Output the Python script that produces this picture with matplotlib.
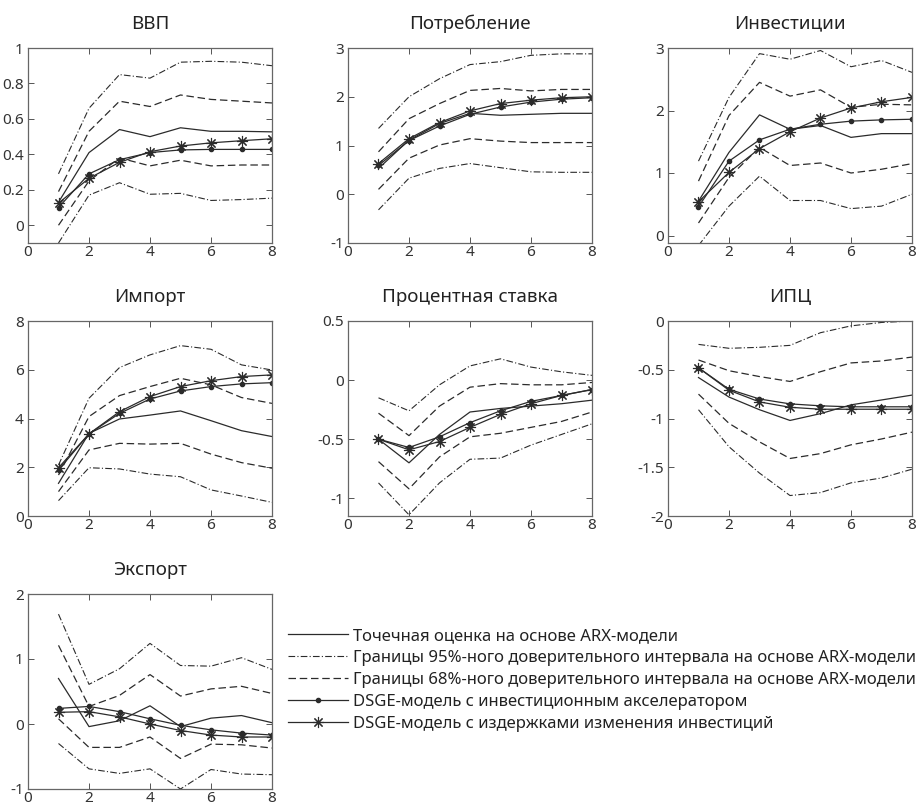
import numpy as np
import matplotlib
matplotlib.use("Agg")
import matplotlib.pyplot as plt
from matplotlib.lines import Line2D

plt.rcParams['font.family'] = ['Noto Sans', 'DejaVu Sans']

# горизонт, кварталы
h = [1, 2, 3, 4, 5, 6, 7, 8]

titles = ["ВВП", "Потребление", "Инвестиции", "Импорт",
          "Процентная ставка", "ИПЦ", "Экспорт"]

# точечная оценка ARX
arx = [
    [0.13, 0.41, 0.54, 0.50, 0.55, 0.53, 0.53, 0.527],
    [0.53, 1.11, 1.45, 1.66, 1.62, 1.64, 1.66, 1.66],
    [0.55, 1.33, 1.93, 1.70, 1.76, 1.57, 1.63, 1.63],
    [1.34, 3.39, 3.98, 4.14, 4.31, 3.91, 3.50, 3.26],
    [-0.50, -0.70, -0.46, -0.27, -0.24, -0.22, -0.20, -0.17],
    [-0.58, -0.78, -0.91, -1.02, -0.95, -0.86, -0.81, -0.76],
    [0.70, -0.04, 0.05, 0.28, -0.04, 0.09, 0.13, 0.02],
]
# 95% границы
up95 = [
    [0.29, 0.66, 0.85, 0.83, 0.92, 0.925, 0.92, 0.90],
    [1.35, 2.00, 2.37, 2.66, 2.72, 2.85, 2.88, 2.88],
    [1.19, 2.21, 2.91, 2.82, 2.96, 2.70, 2.80, 2.61],
    [2.09, 4.83, 6.09, 6.61, 6.99, 6.84, 6.20, 5.99],
    [-0.15, -0.26, -0.04, 0.12, 0.18, 0.11, 0.07, 0.04],
    [-0.24, -0.28, -0.27, -0.25, -0.12, -0.05, -0.015, 0.0],
    [1.69, 0.61, 0.85, 1.24, 0.90, 0.89, 1.02, 0.84],
]
lo95 = [
    [-0.10, 0.17, 0.24, 0.175, 0.18, 0.14, 0.145, 0.153],
    [-0.32, 0.33, 0.53, 0.63, 0.545, 0.46, 0.45, 0.45],
    [-0.16, 0.47, 0.95, 0.56, 0.56, 0.43, 0.47, 0.66],
    [0.63, 1.98, 1.93, 1.72, 1.61, 1.07, 0.82, 0.56],
    [-0.87, -1.14, -0.87, -0.67, -0.66, -0.55, -0.46, -0.37],
    [-0.91, -1.29, -1.56, -1.79, -1.76, -1.66, -1.61, -1.52],
    [-0.30, -0.69, -0.76, -0.69, -1.00, -0.70, -0.77, -0.78],
]
# 68% границы
up68 = [
    [0.19, 0.53, 0.70, 0.67, 0.735, 0.71, 0.70, 0.69],
    [0.87, 1.55, 1.86, 2.13, 2.17, 2.12, 2.15, 2.15],
    [0.87, 1.92, 2.45, 2.23, 2.33, 2.05, 2.10, 2.09],
    [1.68, 4.08, 4.94, 5.31, 5.65, 5.38, 4.86, 4.62],
    [-0.28, -0.47, -0.22, -0.06, -0.03, -0.04, -0.04, -0.02],
    [-0.40, -0.51, -0.57, -0.62, -0.52, -0.43, -0.41, -0.37],
    [1.21, 0.27, 0.44, 0.76, 0.43, 0.54, 0.58, 0.47],
]
lo68 = [
    [0.00, 0.25, 0.38, 0.335, 0.367, 0.335, 0.34, 0.34],
    [0.10, 0.74, 1.01, 1.14, 1.09, 1.06, 1.06, 1.06],
    [0.20, 0.93, 1.41, 1.12, 1.16, 1.00, 1.06, 1.15],
    [1.00, 2.71, 2.98, 2.95, 2.98, 2.54, 2.19, 1.96],
    [-0.69, -0.92, -0.65, -0.48, -0.45, -0.40, -0.35, -0.27],
    [-0.75, -1.05, -1.24, -1.41, -1.36, -1.27, -1.21, -1.14],
    [0.08, -0.36, -0.36, -0.20, -0.53, -0.31, -0.32, -0.37],
]
# DSGE с инвестиционным акселератором
dsge_acc = [
    [0.10, 0.29, 0.37, 0.41, 0.425, 0.428, 0.428, 0.428],
    [0.59, 1.10, 1.40, 1.64, 1.79, 1.89, 1.95, 1.98],
    [0.46, 1.19, 1.53, 1.70, 1.78, 1.83, 1.85, 1.86],
    [1.89, 3.37, 4.21, 4.80, 5.13, 5.31, 5.42, 5.47],
    [-0.50, -0.57, -0.48, -0.36, -0.26, -0.18, -0.13, -0.08],
    [-0.48, -0.70, -0.80, -0.85, -0.87, -0.88, -0.88, -0.88],
    [0.24, 0.27, 0.19, 0.08, -0.02, -0.09, -0.14, -0.17],
]
# DSGE с издержками изменения инвестиций
dsge_adj = [
    [0.125, 0.265, 0.355, 0.415, 0.447, 0.465, 0.477, 0.488],
    [0.63, 1.14, 1.47, 1.71, 1.86, 1.93, 1.98, 2.00],
    [0.54, 1.01, 1.39, 1.66, 1.88, 2.04, 2.14, 2.21],
    [1.98, 3.37, 4.28, 4.90, 5.31, 5.55, 5.72, 5.79],
    [-0.50, -0.59, -0.52, -0.40, -0.29, -0.20, -0.13, -0.08],
    [-0.48, -0.71, -0.83, -0.885, -0.905, -0.905, -0.905, -0.905],
    [0.18, 0.19, 0.11, 0.00, -0.10, -0.17, -0.20, -0.20],
]

ylims = [(-0.1, 1), (-1, 3), (-0.12, 3), (0, 8), (-1.15, 0.5), (-2, 0), (-1, 2)]
yticks = [
    [0, 0.2, 0.4, 0.6, 0.8, 1],
    [-1, 0, 1, 2, 3],
    [0, 1, 2, 3],
    [0, 2, 4, 6, 8],
    [-1, -0.5, 0, 0.5],
    [-2, -1.5, -1, -0.5, 0],
    [-1, 0, 1, 2],
]

legend_labels = [
    "Точечная оценка на основе ARX-модели",
    "Границы 95%-ного доверительного интервала на основе ARX-модели",
    "Границы 68%-ного доверительного интервала на основе ARX-модели",
    "DSGE-модель с инвестиционным акселератором",
    "DSGE-модель с издержками изменения инвестиций",
]

W, H = 920, 806
fig = plt.figure(figsize=(W / 100, H / 100), dpi=100)

lefts = [28, 348, 668]
bottoms = [243, 516, 789]
aw, ah = 244, 195

c = "#2b2b2b"
lw = 0.9
star = (8, 2, 0)

for i in range(7):
    r, col = divmod(i, 3)
    ax = fig.add_axes([lefts[col] / W, 1 - bottoms[r] / H, aw / W, ah / H])
    ax.plot(h, arx[i], color=c, lw=lw, ls="-")
    ax.plot(h, up95[i], color=c, lw=0.8, ls=(0, (6, 2, 1, 2)))
    ax.plot(h, lo95[i], color=c, lw=0.8, ls=(0, (6, 2, 1, 2)))
    ax.plot(h, up68[i], color=c, lw=0.9, ls=(0, (6, 3)))
    ax.plot(h, lo68[i], color=c, lw=0.9, ls=(0, (6, 3)))
    ax.plot(h, dsge_acc[i], color=c, lw=lw, marker="o", ms=3)
    ax.plot(h, dsge_adj[i], color=c, lw=lw, marker=star, ms=8, mew=0.8)
    ax.set_xlim(0, 8)
    ax.set_xticks([0, 2, 4, 6, 8])
    ax.set_ylim(*ylims[i])
    ax.set_yticks(yticks[i])
    ax.set_yticklabels([f"{v:g}" for v in yticks[i]])
    ax.tick_params(direction="in", top=True, right=True, length=4,
                   width=0.7, colors="#555555", labelcolor="#333333",
                   labelsize=11)
    ax.tick_params(axis="x", pad=1.5)
    ax.tick_params(axis="y", pad=3)
    for s in ax.spines.values():
        s.set_color("#666666")
        s.set_linewidth(0.9)
    ax.set_title(titles[i], fontsize=13.5, color="#222222", pad=14)

handles = [
    Line2D([], [], color=c, lw=lw),
    Line2D([], [], color=c, lw=0.8, ls=(0, (6, 2, 1, 2))),
    Line2D([], [], color=c, lw=0.9, ls=(0, (6, 3))),
    Line2D([], [], color=c, lw=lw, marker="o", ms=3),
    Line2D([], [], color=c, lw=lw, marker=star, ms=8, mew=0.8),
]
fig.legend(handles, legend_labels, loc="upper left",
           bbox_to_anchor=(288 / W, 1 - 628 / H), frameon=False,
           fontsize=12, handlelength=3.6, handletextpad=0.3,
           labelspacing=0.36, borderpad=0, borderaxespad=0,
           numpoints=1, labelcolor="#222222")

fig.savefig("out.png", dpi=100)
